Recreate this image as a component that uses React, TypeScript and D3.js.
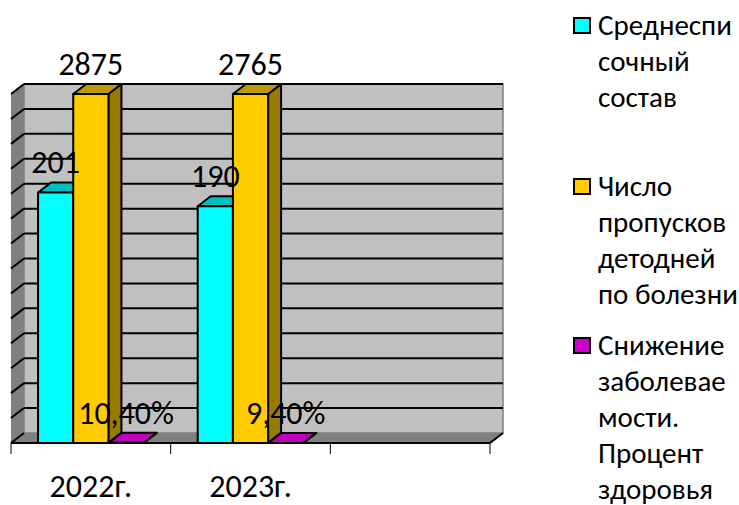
import React from "react";
import * as d3 from "d3";

const categories = ["2022г.", "2023г.", ""];
const attendance = [201, 190];
const absences = [2875, 2765];
const health = [0.104, 0.094];
const healthLabels = ["10,40%", "9,40%"];
const yTicks = d3.range(0, 281, 20);
const legendNames = [
  ["Среднеспи", "сочный", "состав"],
  ["Число", "пропусков", "детодней", "по болезни"],
  ["Снижение", "заболевае", "мости.", "Процент", "здоровья"],
];
const legendTop = [26, 187, 346];

const W = 739, H = 505;
const FONT = "Carlito, Lato, 'Open Sans', sans-serif";
const left = 11, right = 490, bottom = 443, top = 94, dx = 13, dy = 10;
const x = d3.scaleBand<string>().domain(categories).range([left, right]);
const y = d3.scaleLinear().domain([0, 280]).range([bottom, top]).clamp(true);
const slot = x.bandwidth() * 0.22;
const inner = d3.scaleBand<number>().domain([0, 1, 2]).range([slot * 0.77, x.bandwidth() - slot * 0.77]);

const seriesList = [
  { values: attendance, front: "#00FFFF", topC: "#00BFBF", side: "#009999", labels: attendance.map(String) },
  { values: absences, front: "#FFCC00", topC: "#BF9900", side: "#997A00", labels: absences.map(String) },
  { values: health, front: "#CC00CC", topC: "#BF00BF", side: "#990099", labels: healthLabels },
];
const poly = (p: number[][]) => p.map((a) => a.join(",")).join(" ");

export default function App() {
  const ln = { stroke: "#000", strokeWidth: 2 };
  return (
    <svg width={W} height={H} style={{ position: "absolute", left: 0, top: 0, background: "#fff" }}>
      {/* walls */}
      <rect x={left + dx} y={top - dy} width={right - left} height={bottom - top} fill="#C0C0C0" stroke="#808080" strokeWidth={1.5} />
      <polygon points={poly([[left, top], [left + dx, top - dy], [left + dx, bottom - dy], [left, bottom]])} fill="#808080" />
      <polygon points={poly([[left, bottom], [left + dx, bottom - dy], [right + dx, bottom - dy], [right, bottom]])} fill="#808080" />
      {/* grid */}
      {yTicks.map((t) => (
        <g key={t}>
          {t > 0 && <line x1={left + dx} x2={right + dx} y1={y(t) - dy} y2={y(t) - dy} {...ln} />}
          <line x1={left} x2={left + dx} y1={y(t)} y2={y(t) - dy} {...ln} />
        </g>
      ))}
      {/* axis */}
      <line x1={left} x2={right} y1={bottom} y2={bottom} {...ln} />
      <line x1={right} x2={right + dx} y1={bottom} y2={bottom - dy} {...ln} />
      {categories.map((c) => (
        <line key={c} x1={x(c)!} x2={x(c)!} y1={bottom} y2={bottom + 11} stroke="#000" strokeWidth={1} />
      ))}
      <line x1={right} x2={right} y1={bottom} y2={bottom + 11} stroke="#000" strokeWidth={1} />
      {/* bars */}
      {seriesList.map((s, si) =>
        s.values.map((v, i) => {
          const bx = x(categories[i])! + inner(si)!;
          const bw = inner.bandwidth();
          const by = y(v);
          const st = { stroke: "#000", strokeWidth: 2, strokeLinejoin: "round" as const };
          return (
            <g key={`${si}-${i}`}>
              <polygon points={poly([[bx + bw, by], [bx + bw + dx, by - dy], [bx + bw + dx, bottom - dy], [bx + bw, bottom]])} fill={s.side} {...st} />
              <polygon points={poly([[bx, by], [bx + dx, by - dy], [bx + bw + dx, by - dy], [bx + bw, by]])} fill={s.topC} {...st} />
              <rect x={bx} y={by} width={bw} height={bottom - by} fill={s.front} {...st} />
            </g>
          );
        })
      )}
      {/* data labels */}
      <g fontFamily={FONT} fontSize={32} fill="#000" textAnchor="middle">
        {seriesList.map((s, si) =>
          s.values.map((v, i) => (
            <text key={`${si}-${i}`} x={x(categories[i])! + inner(si)! + inner.bandwidth() / 2} y={y(v) - 19}>
              {s.labels[i]}
            </text>
          ))
        )}
        {categories.map((c) => (
          <text key={c} x={x(c)! + x.bandwidth() / 2} y={497}>{c}</text>
        ))}
      </g>
      {/* legend */}
      <g fontFamily={FONT} fontSize={29} fill="#000">
        {legendNames.map((lines, k) => (
          <g key={k}>
            <rect x={574} y={legendTop[k] - 8} width={16} height={15} fill={seriesList[k].front} stroke="#000" strokeWidth={2} />
            {lines.map((t, j) => (
              <text key={j} x={598} y={legendTop[k] + 9 + j * 36}>{t}</text>
            ))}
          </g>
        ))}
      </g>
    </svg>
  );
}
